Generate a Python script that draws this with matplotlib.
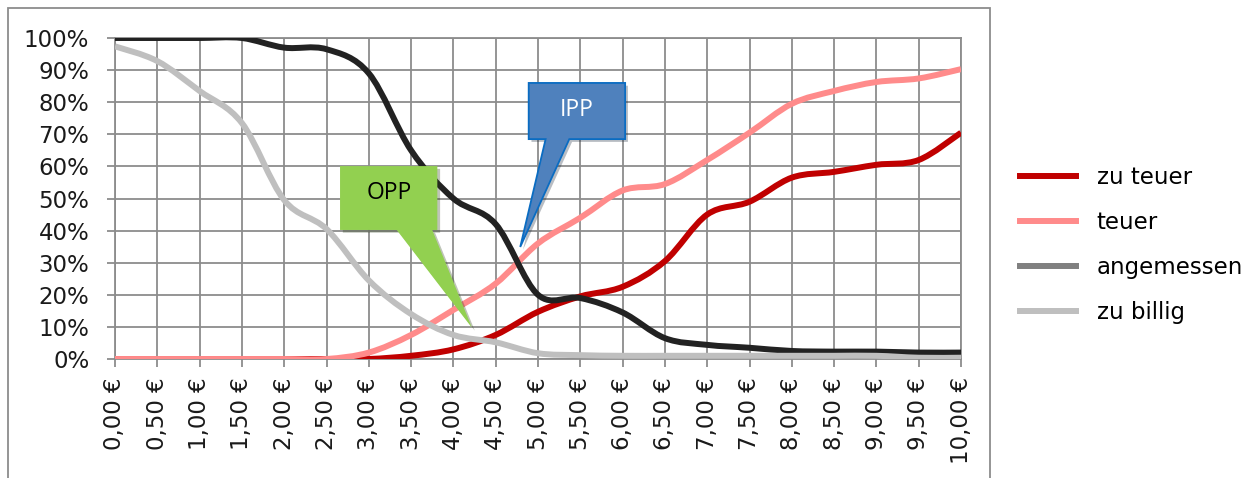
import matplotlib
matplotlib.use("Agg")
import matplotlib.pyplot as plt
from matplotlib.path import Path
from matplotlib.patches import PathPatch, Polygon, Rectangle
from matplotlib.lines import Line2D
import matplotlib.patheffects as pe
import numpy as np

plt.rcParams['font.family'] = ['DejaVu Sans']

# ---- data ----
prices = [0.0, 0.5, 1.0, 1.5, 2.0, 2.5, 3.0, 3.5, 4.0, 4.5, 5.0,
          5.5, 6.0, 6.5, 7.0, 7.5, 8.0, 8.5, 9.0, 9.5, 10.0]
tick_labels = ["0,00 €", "0,50 €", "1,00 €", "1,50 €", "2,00 €", "2,50 €",
               "3,00 €", "3,50 €", "4,00 €", "4,50 €", "5,00 €", "5,50 €",
               "6,00 €", "6,50 €", "7,00 €", "7,50 €", "8,00 €", "8,50 €",
               "9,00 €", "9,50 €", "10,00 €"]
zu_teuer = [0, 0, 0, 0, 0, 0, 0, 1, 3, 7.5, 14.7, 19.5, 22.5, 30.5, 45, 49,
            56.5, 58.3, 60.5, 62, 70.5]
teuer = [0, 0, 0, 0, 0, 0, 2, 7.5, 15.3, 23.5, 36, 44, 52.5, 54.5, 62, 70.5,
         79.5, 83.5, 86.3, 87.4, 90.3]
angemessen = [100, 100, 100, 100, 97, 96.5, 89, 65, 50, 42, 20, 19, 14.5,
              6.5, 4.4, 3.5, 2.5, 2.3, 2.3, 2, 2]
zu_billig = [97.4, 92.8, 83.5, 73.5, 49.5, 40.5, 24.5, 14, 7.5, 5.2, 1.8,
             1.2, 1, 1, 1, 1, 1, 1, 1, 0.4, 0.4]

series = [("zu teuer", zu_teuer, "#C00000", "#C00000"),
          ("teuer", teuer, "#FF8B8B", "#FF8B8B"),
          ("angemessen", angemessen, "#222222", "#808080"),
          ("zu billig", zu_billig, "#BFBFBF", "#BFBFBF")]

W, H = 1253, 478
fig = plt.figure(figsize=(W / 100, H / 100), dpi=100)
ax = fig.add_axes([115 / W, 1 - 359 / H, (961 - 115) / W, (359 - 38) / H])

grid_c = "#8C8C8C"
LW = 4.3


def smooth_path(xs, ys):
    pts = np.column_stack([xs, ys]).astype(float)
    n = len(pts)
    verts = [pts[0]]
    codes = [Path.MOVETO]
    for i in range(n - 1):
        p0 = pts[i - 1] if i > 0 else pts[i]
        p1 = pts[i]
        p2 = pts[i + 1]
        p3 = pts[i + 2] if i + 2 < n else pts[i + 1]
        c1 = p1 + (p2 - p0) / 6.0
        c2 = p2 - (p3 - p1) / 6.0
        verts += [c1, c2, p2]
        codes += [Path.CURVE4] * 3
    return Path(verts, codes)


for z, (name, vals, col, _) in enumerate(series):
    patch = PathPatch(smooth_path(prices, vals), fill=False, edgecolor=col,
                      lw=LW, capstyle='butt', joinstyle='round', zorder=3 + z)
    ax.add_patch(patch)

ax.set_xlim(0, 10)
ax.set_ylim(0, 100)
ax.set_xticks(prices)
ax.set_xticklabels(tick_labels, rotation=90, fontsize=16.5, color="#1a1a1a")
ax.set_yticks(np.arange(0, 101, 10))
ax.set_yticklabels([f"{v}%" for v in range(0, 101, 10)], fontsize=16.5,
                   color="#1a1a1a")
ax.tick_params(axis='both', length=6, width=1.3, color=grid_c)
ax.tick_params(axis='y', pad=12.5)
ax.tick_params(axis='x', pad=7)
ax.grid(True, color=grid_c, lw=1.3)
ax.set_axisbelow(True)
for s in ax.spines.values():
    s.set_color(grid_c)
    s.set_linewidth(1.3)

# ---- callouts ----
shadow = [pe.withSimplePatchShadow(offset=(2, -2), alpha=0.3)]
ipp = Polygon([(4.89, 86), (6.03, 86), (6.03, 68.5), (5.37, 68.5),
               (4.79, 34.9), (5.09, 68.5), (4.89, 68.5)], closed=True,
              facecolor="#4F81BD", edgecolor="#0A6CC2", lw=1.3, zorder=10,
              path_effects=shadow)
ax.add_patch(ipp)
ax.text(5.46, 77.6, "IPP", color="white", fontsize=16.5, ha='center',
        va='center', family='Open Sans', zorder=11)

opp = Polygon([(2.66, 60.1), (3.81, 60.1), (3.81, 40.2), (3.75, 40.2),
               (4.22, 9.7), (3.33, 40.2), (2.66, 40.2)], closed=True,
              facecolor="#92D050", edgecolor="none", zorder=10,
              path_effects=shadow)
ax.add_patch(opp)
ax.text(3.24, 51.6, "OPP", color="black", fontsize=16.5, ha='center',
        va='center', family='Open Sans', zorder=11)

# ---- chart border ----
fig.patches.append(Rectangle((8 / W, -0.1), (990 - 8) / W, 1.1 - 8 / H,
                             transform=fig.transFigure, fill=False,
                             edgecolor="#8C8C8C", lw=1.3))

# ---- legend ----
handles = [Line2D([], [], color=lc, lw=LW) for (_, _, _, lc) in series]
fig.legend(handles, [s[0] for s in series], loc='center left',
           bbox_to_anchor=(1020 / W, 1 - 245 / H), frameon=False,
           fontsize=16.5, handlelength=2.45, handletextpad=0.9,
           labelspacing=0.95, borderpad=0, borderaxespad=0)

fig.savefig("out.png", dpi=100)
